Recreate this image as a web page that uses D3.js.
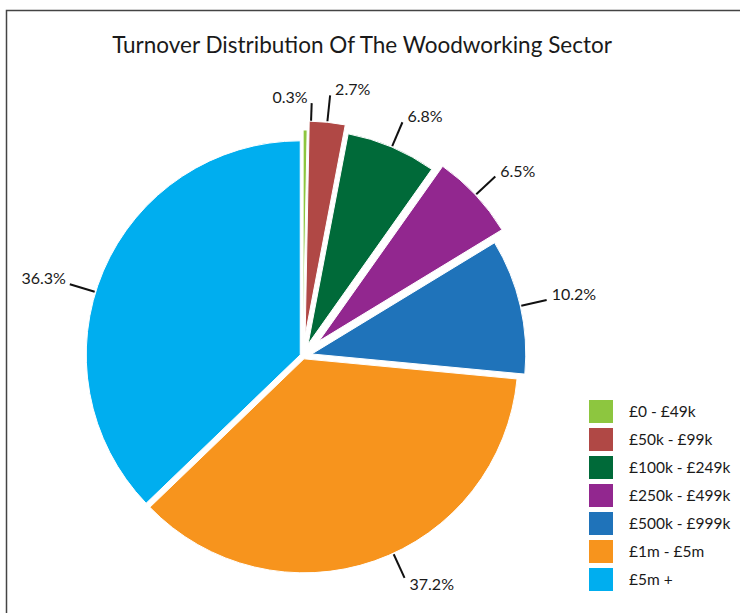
<!DOCTYPE html>
<html>
<head>
<meta charset="utf-8">
<script src="https://cdn.jsdelivr.net/npm/d3@7"></script>
<style>
  body { margin: 0; background: #fff; }
  text { font-family: Lato, "Open Sans", sans-serif; fill: #1a1a1a; }
</style>
</head>
<body>
<div id="chart"></div>
<script>
const categories = ["£0 - £49k", "£50k - £99k", "£100k - £249k", "£250k - £499k", "£500k - £999k", "£1m - £5m", "£5m +"];
// slice sizes as drawn; the two large slices' printed labels look swapped against their sizes
const shares = [0.3, 2.7, 6.8, 6.5, 10.2, 36.3, 37.2];
const labels = ["0.3%", "2.7%", "6.8%", "6.5%", "10.2%", "37.2%", "36.3%"];
const colors = ["#8dc63f", "#b04845", "#006a39", "#92278f", "#1f73ba", "#f7941d", "#00aeef"];

// per-slice explode distance (px) and leader angle nudge (deg)
const explode = [12, 21, 13, 22, 9, 3, 3];
const labelNudge = [1.5, 0, 0, 0, 0, -5.4, -6];

const width = 740, height = 613;
const cx = 303, cy = 356, radius = 214;
const leaderLen = 27;

const svg = d3.select("#chart").append("svg")
  .attr("width", width)
  .attr("height", height);

// frame
svg.append("path")
  .attr("d", `M6.5,${height} V10.5 H${width}`)
  .attr("fill", "none")
  .attr("stroke", "#444")
  .attr("stroke-width", 1.5);

svg.append("text")
  .attr("x", 362)
  .attr("y", 53)
  .attr("text-anchor", "middle")
  .style("font-size", "22.5px")
  .text("Turnover Distribution Of The Woodworking Sector");

const pie = d3.pie().sort(null).value(d => d)(shares);
const arc = d3.arc().innerRadius(0).outerRadius(radius);

const g = svg.append("g").attr("transform", `translate(${cx},${cy})`);

const offset = (d, i) => {
  const a = (d.startAngle + d.endAngle) / 2;
  return [Math.sin(a) * explode[i], -Math.cos(a) * explode[i]];
};

const slices = g.selectAll(".slice")
  .data(pie)
  .enter()
  .append("g")
  .attr("class", "slice")
  .attr("transform", (d, i) => `translate(${offset(d, i)})`);

slices.append("path")
  .attr("d", arc)
  .attr("fill", (d, i) => colors[i])
  .attr("stroke", "#fff")
  .attr("stroke-width", 1)
  .attr("stroke-linejoin", "round");

// leader lines and labels
slices.each(function (d, i) {
  const a = (d.startAngle + d.endAngle) / 2 + labelNudge[i] * Math.PI / 180;
  const sx = Math.sin(a), sy = -Math.cos(a);
  const x1 = sx * (radius + 1), y1 = sy * (radius + 1);
  const x2 = sx * (radius + leaderLen), y2 = sy * (radius + leaderLen);
  const s = d3.select(this);
  s.append("line")
    .attr("x1", x1).attr("y1", y1)
    .attr("x2", x2).attr("y2", y2)
    .attr("stroke", "#111")
    .attr("stroke-width", 2);
  const right = a > 0.05 && a < Math.PI;
  const below = a > Math.PI / 2 && a < Math.PI * 1.5;
  s.append("text")
    .attr("x", right ? x2 + 5 : x2 - 4)
    .attr("y", below ? y2 + 12 : y2)
    .attr("text-anchor", right ? "start" : "end")
    .style("font-size", "16px")
    .text(labels[i]);
});

// legend
const legend = svg.append("g").attr("transform", "translate(589,400)");
const rows = legend.selectAll(".row")
  .data(categories)
  .enter()
  .append("g")
  .attr("class", "row")
  .attr("transform", (d, i) => `translate(0,${i * 28})`);

rows.append("rect")
  .attr("width", 24)
  .attr("height", 23)
  .attr("fill", (d, i) => colors[i]);

rows.append("text")
  .attr("x", 40)
  .attr("y", 11.5)
  .attr("dy", "0.35em")
  .style("font-size", "15.5px")
  .text(d => d);
</script>
</body>
</html>
